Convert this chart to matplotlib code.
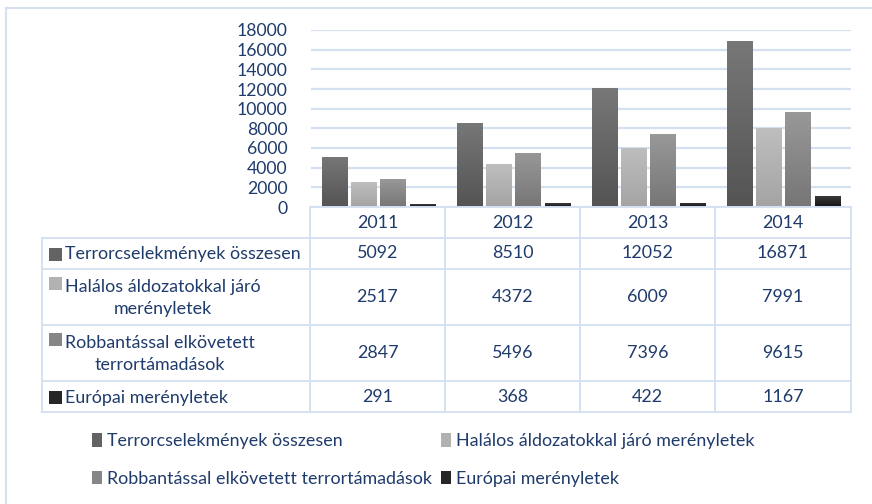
import matplotlib
matplotlib.use("Agg")
import matplotlib.pyplot as plt
import numpy as np
from matplotlib.colors import LinearSegmentedColormap
from matplotlib.patches import Rectangle

years = ["2011", "2012", "2013", "2014"]
series = ["Terrorcselekmények összesen",
          "Halálos áldozatokkal járó merényletek",
          "Robbantással elkövetett terrortámadások",
          "Európai merényletek"]
table_labels = ["Terrorcselekmények összesen",
                "Halálos áldozatokkal járó\nmerényletek",
                "Robbantással elkövetett\nterrortámadások",
                "Európai merényletek"]
total = [5092, 8510, 12052, 16871]
deadly = [2517, 4372, 6009, 7991]
bombing = [2847, 5496, 7396, 9615]
europe = [291, 368, 422, 1167]
values = [total, deadly, bombing, europe]
yticks = [0, 2000, 4000, 6000, 8000, 10000, 12000, 14000, 16000, 18000]

top_cols = ["#777777", "#bebebe", "#989898", "#3c3c3c"]
bot_cols = ["#545454", "#a4a4a4", "#767676", "#141414"]
mid_cols = ["#636363", "#b2b2b2", "#868686", "#262626"]
txt = "#1F3B6B"
line_c = "#D5E1F1"

plt.rcParams['font.family'] = ['Lato', 'DejaVu Sans']
W, H = 872, 504
fig = plt.figure(figsize=(W/100, H/100), dpi=100)

L, R, T, B = 311, 851, 30, 207
ax = fig.add_axes([L/W, 1 - B/H, (R-L)/W, (B-T)/H])
ax.set_xlim(-0.5, 3.5)
ax.set_ylim(0, 18000)
ax.set_yticks(yticks)
ax.set_yticklabels([str(v) for v in yticks], color=txt, fontsize=12.7)
ax.tick_params(axis='y', length=0, pad=17)
ax.set_xticks([])
for s in ax.spines.values():
    s.set_visible(False)
ax.yaxis.grid(True, color=line_c, lw=1.6)
ax.set_axisbelow(True)

x = np.arange(len(years))
offs = [-0.326, -0.108, 0.108, 0.326]
bw = 0.19
grad = np.linspace(0, 1, 64).reshape(-1, 1)
handles = []
for i, vals in enumerate(values):
    bars = ax.bar(x + offs[i], vals, width=bw, color=mid_cols[i], zorder=2)
    cmap = LinearSegmentedColormap.from_list(f"g{i}", [bot_cols[i], top_cols[i]])
    for b in bars:
        x0, y0 = b.get_x(), b.get_y()
        w, h = b.get_width(), b.get_height()
        im = ax.imshow(grad, extent=[x0, x0 + w, y0, y0 + h], origin='lower',
                       aspect='auto', cmap=cmap, zorder=3)
        im.set_clip_path(b)
    handles.append(Rectangle((0, 0), 1, 1, facecolor=mid_cols[i]))
ax.set_xlim(-0.5, 3.5)
ax.set_ylim(0, 18000)

ov = fig.add_axes([0, 0, 1, 1], zorder=-1)
ov.set_xlim(0, W)
ov.set_ylim(H, 0)
ov.axis('off')
ov.plot([6, W], [7.5, 7.5], color=line_c, lw=1.5)
ov.plot([6, 6], [7.5, H], color=line_c, lw=1.5)

ov2 = fig.add_axes([0, 0, 1, 1], zorder=5)
ov2.set_xlim(0, W)
ov2.set_ylim(H, 0)
ov2.axis('off')
ov2.patch.set_alpha(0)

col_x = [42, 310, 445, 580, 715, 851]
row_y = [207, 238, 269, 325, 381, 412]
lw = 1.4
ov2.plot([col_x[1], col_x[-1]], [row_y[0], row_y[0]], color=line_c, lw=lw)
for r in row_y[1:]:
    ov2.plot([col_x[0], col_x[-1]], [r, r], color=line_c, lw=lw)
for c in col_x[1:]:
    ov2.plot([c, c], [row_y[0], row_y[-1]], color=line_c, lw=lw)
ov2.plot([col_x[0], col_x[0]], [row_y[1], row_y[-1]], color=line_c, lw=lw)

fs = 12.9
for j, yr in enumerate(years):
    cx = (col_x[j+1] + col_x[j+2]) / 2
    ov2.text(cx, (row_y[0] + row_y[1]) / 2, yr, ha='center', va='center',
             color=txt, fontsize=fs)
for i, vals in enumerate(values):
    cy = (row_y[i+1] + row_y[i+2]) / 2
    ov2.add_patch(Rectangle((49, cy - 6 if '\n' not in table_labels[i] else cy - 20), 13, 13,
                            facecolor=mid_cols[i], edgecolor='none'))
    ov2.text(65, cy + 1, table_labels[i], ha='left', va='center',
             multialignment='center', color=txt, fontsize=fs, linespacing=1.45)
    for j, v in enumerate(vals):
        cx = (col_x[j+1] + col_x[j+2]) / 2
        ov2.text(cx, cy, str(v), ha='center', va='center', color=txt, fontsize=fs)

leg = fig.legend([handles[k] for k in [0, 2, 1, 3]], [series[k] for k in [0, 2, 1, 3]],
                 ncol=2, loc='upper left', bbox_to_anchor=(92/W, 1 - 433/H),
                 frameon=False, fontsize=12.9, handlelength=0.55, handleheight=0.8,
                 handletextpad=0.3, columnspacing=0.5, labelspacing=1.2,
                 labelcolor=txt, borderaxespad=0, borderpad=0)

fig.savefig("out.png", dpi=100)
